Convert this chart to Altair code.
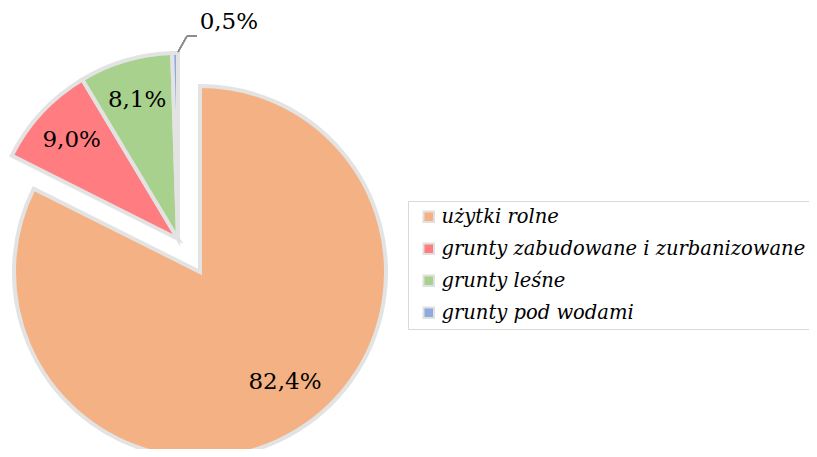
import altair as alt
import pandas as pd

categories = ["użytki rolne", "grunty zabudowane i zurbanizowane", "grunty leśne", "grunty pod wodami"]
shares = [82.4, 9.0, 8.1, 0.5]
labels = ["82,4%", "9,0%", "8,1%", "0,5%"]
colors = ["#F4B183", "#FF7C80", "#A9D18E", "#8FAADC"]

df = pd.DataFrame({"category": categories, "share": shares, "label": labels})

base = (
    alt.Chart(df)
    .transform_window(idx="row_number()")
    .transform_window(cum="sum(share)", sort=[alt.SortField("idx")], frame=[None, 0])
    .transform_calculate(start="datum.cum - datum.share", mid="datum.cum - datum.share / 2")
)

theta_scale = alt.Scale(domain=[0, 100], range=[0, 6.283185307179586])
color_scale = alt.Scale(domain=categories, range=colors)

BIG = (192, 264)
SMALL = (170, 231)
R = 186
STROKE = "#e3e3e3"
FONT = "DejaVu Serif"

big = base.transform_filter(alt.datum.category == categories[0])
small = base.transform_filter(alt.datum.category != categories[0])

big_arc = big.mark_arc(radius=R, stroke=STROKE, strokeWidth=4).encode(
    theta=alt.Theta("start:Q", scale=theta_scale),
    theta2="cum:Q",
    color=alt.Color("category:N", scale=color_scale, legend=alt.Legend(title=None)),
    x=alt.value(BIG[0]),
    y=alt.value(BIG[1]),
)

small_arc = small.mark_arc(radius=R, stroke=STROKE, strokeWidth=4).encode(
    theta=alt.Theta("start:Q", scale=theta_scale),
    theta2="cum:Q",
    color=alt.Color("category:N", scale=color_scale, legend=None),
    x=alt.value(SMALL[0]),
    y=alt.value(SMALL[1]),
)

txt = dict(font=FONT, fontSize=23, color="#000000", align="center", baseline="middle")

big_lbl = big.mark_text(dx=12, dy=-8, **txt).encode(
    theta=alt.Theta("mid:Q", scale=theta_scale),
    radius=alt.value(139),
    text="label:N",
    x=alt.value(BIG[0]),
    y=alt.value(BIG[1]),
)

small_lbl = small.transform_filter(alt.datum.share > 1).mark_text(**txt).encode(
    theta=alt.Theta("mid:Q", scale=theta_scale),
    radius=alt.value(145),
    text="label:N",
    x=alt.value(SMALL[0]),
    y=alt.value(SMALL[1]),
)

tiny_lbl = small.transform_filter(alt.datum.share <= 1).mark_text(dx=54, dy=-17, **txt).encode(
    theta=alt.Theta("mid:Q", scale=theta_scale),
    radius=alt.value(200),
    text="label:N",
    x=alt.value(SMALL[0]),
    y=alt.value(SMALL[1]),
)

lead1 = alt.Chart(df).mark_rule(color="#8c8c8c", strokeWidth=1.5).encode(
    x=alt.value(170), y=alt.value(44), x2=alt.value(179), y2=alt.value(28)
)
lead2 = alt.Chart(df).mark_rule(color="#8c8c8c", strokeWidth=1.5).encode(
    x=alt.value(179), y=alt.value(28), x2=alt.value(189), y2=alt.value(28)
)

chart = (
    alt.layer(big_arc, small_arc, big_lbl, small_lbl, tiny_lbl, lead1, lead2)
    .properties(width=801, height=441, autosize="none", padding=0, background="#ffffff")
    .configure_view(stroke=None)
    .configure_legend(
        orient="none",
        legendX=400,
        legendY=193,
        strokeColor="#d9d9d9",
        fillColor="#ffffff",
        padding=6,
        cornerRadius=0,
        symbolType="square",
        symbolSize=110,
        symbolStrokeColor="#e0e0e0",
        symbolStrokeWidth=2,
        symbolOffset=5,
        labelFont=FONT,
        labelFontStyle="italic",
        labelFontSize=19.5,
        labelColor="#000000",
        labelLimit=0,
        labelOffset=3,
        rowPadding=11,
    )
)

chart.save("out.html", embed_options={"renderer": "svg", "actions": False})
